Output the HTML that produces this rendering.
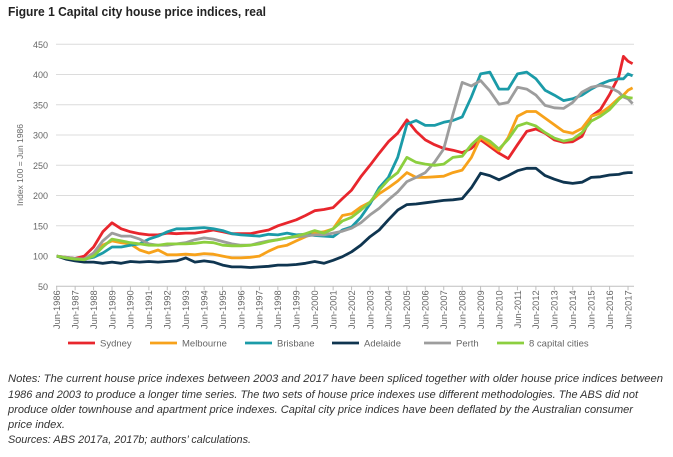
<!DOCTYPE html>
<html><head><meta charset="utf-8"><style>
body{margin:0;background:#fff;width:673px;height:457px;overflow:hidden}
svg{display:block;font-family:"Liberation Sans",sans-serif}
</style></head><body>
<svg id="c" width="673" height="457" viewBox="0 0 673 457">
<text x="8" y="16" font-size="12.5" font-weight="bold" fill="#222" textLength="258" lengthAdjust="spacingAndGlyphs">Figure 1 Capital city house price indices, real</text>
<text transform="translate(23,165) rotate(-90)" text-anchor="middle" font-size="8.5" fill="#666">Index 100 = Jun 1986</text>
<g id="grid"></g><g id="xl"></g><g id="lines"></g><g id="legend"></g>
<g font-style="italic" font-size="11" fill="#333">
<text x="8" y="382" textLength="655" lengthAdjust="spacingAndGlyphs">Notes: The current house price indexes between 2003 and 2017 have been spliced together with older house price indices between</text>
<text x="8" y="398" textLength="630" lengthAdjust="spacingAndGlyphs">1986 and 2003 to produce a longer time series. The two sets of house price indexes use different methodologies. The ABS did not</text>
<text x="8" y="413" textLength="625" lengthAdjust="spacingAndGlyphs">produce older townhouse and apartment price indexes. Capital city price indices have been deflated by the Australian consumer</text>
<text x="8" y="428" textLength="57" lengthAdjust="spacingAndGlyphs">price index.</text>
<text x="8" y="443" textLength="243" lengthAdjust="spacingAndGlyphs">Sources: ABS 2017a, 2017b; authors’ calculations.</text>
</g>
</svg>
<script>
const yTicks=[50,100,150,200,250,300,350,400,450];
const xTickYears=[1986,1987,1988,1989,1990,1991,1992,1993,1994,1995,1996,1997,1998,1999,2000,2001,2002,2003,2004,2005,2006,2007,2008,2009,2010,2011,2012,2013,2014,2015,2016,2017];
const times=[0,0.5,1,1.5,2,2.5,3,3.5,4,4.5,5,5.5,6,6.5,7,7.5,8,8.5,9,9.5,10,10.5,11,11.5,12,12.5,13,13.5,14,14.5,15,15.5,16,16.5,17,17.5,18,18.5,19,19.5,20,20.5,21,21.5,22,22.5,23,23.5,24,24.5,25,25.5,26,26.5,27,27.5,28,28.5,29,29.5,30,30.5,30.75,31,31.25];
const seriesNames=["Sydney","Melbourne","Brisbane","Adelaide","Perth","8 capital cities"];
const seriesColors=["#e8262d","#f7a21b","#1b9ba8","#0f3550","#9d9d9d","#8ccf3f"];
const sydney=[100,98,96,100,115,140,155,145,140,137,135,135,138,137,138,138,140,143,140,137,137,137,140,143,150,155,160,167,175,177,180,195,209,231,250,270,289,303,325,306,292,284,278,275,271,278,292,281,270,261,284,306,310,303,292,288,289,298,331,342,367,397,430,422,418];
const melbourne=[100,97,95,95,105,118,125,122,120,110,105,110,102,102,103,102,104,103,100,97,97,98,100,108,115,118,125,132,138,140,145,167,170,181,189,203,213,224,238,230,230,231,232,238,242,263,296,285,274,296,331,339,339,328,317,306,303,311,331,336,347,361,366,374,378];
const brisbane=[100,97,94,95,98,105,115,115,118,120,128,133,140,145,145,146,147,145,142,137,135,134,133,136,135,138,135,136,134,133,132,143,148,164,186,213,230,263,318,324,316,316,321,324,330,363,401,404,376,376,401,404,393,374,366,357,360,366,376,384,390,393,393,401,398];
const adelaide=[100,95,92,90,90,88,90,88,91,90,91,90,91,92,97,90,92,90,85,82,82,81,82,83,85,85,86,88,91,88,93,99,107,118,132,143,160,176,185,186,188,190,192,193,195,213,237,233,226,233,241,245,245,233,227,222,220,222,230,231,234,235,237,238,238];
const perth=[100,98,96,95,105,125,138,133,133,128,120,118,118,120,122,127,130,128,124,120,118,118,122,125,127,130,132,133,135,135,138,141,146,155,168,179,193,206,223,230,238,255,277,334,387,381,390,373,351,354,379,376,366,349,345,344,354,371,379,382,379,371,363,360,352];
const capitals=[100,97,95,94,100,115,128,125,122,120,118,118,120,120,120,121,123,122,118,117,117,118,120,124,127,130,133,137,142,138,145,158,164,176,189,209,226,238,263,255,252,250,252,263,265,284,298,290,277,293,315,320,315,304,295,290,293,304,323,331,342,359,365,362,361];
const allSeries=[sydney,melbourne,brisbane,adelaide,perth,capitals];

const NS="http://www.w3.org/2000/svg";
const X0=56.7,XS=18.43,YTOP=44.3,YPX=0.605;
const xs=t=>X0+t*XS;
const ys=v=>YTOP+(450-v)*YPX;
function mk(tag,attrs,parent){const e=document.createElementNS(NS,tag);for(const k in attrs)e.setAttribute(k,attrs[k]);parent.appendChild(e);return e;}
const grid=document.getElementById('grid');
yTicks.forEach(v=>{
  const l=mk('line',{x1:56,x2:634,y1:ys(v),y2:ys(v),stroke:v===50?'#bfbfbf':'#dcdcdc','stroke-width':1},grid);
  
  
  const t=mk('text',{x:48,y:ys(v)+3.5,'text-anchor':'end','font-size':9,fill:'#666'},grid);
  
  
  t.textContent=v;
});
const xl=document.getElementById('xl');
xTickYears.forEach((yr,i)=>{
  const x=xs(i);
  const tk=mk('line',{x1:x,x2:x,y1:ys(50),y2:ys(50)+4,stroke:'#bfbfbf'},xl);
  
  
  const t=mk('text',{transform:`translate(${x+3.3},${ys(50)+4}) rotate(-90)`,'text-anchor':'end','font-size':9.3,fill:'#666'},xl);
  
  
  t.textContent='Jun-'+yr;
});
const lines=document.getElementById('lines');
allSeries.forEach((s,i)=>{
  const d=s.map((v,j)=>(j?'L':'M')+xs(times[j]).toFixed(1)+','+ys(v).toFixed(1)).join('');
  const p=mk('path',{d:d,fill:'none',stroke:seriesColors[i],'stroke-width':2.8,'stroke-linejoin':'round'},lines);
  
  
});
const legend=document.getElementById('legend');
const lx=[68,150,245,332,424,497];
seriesNames.forEach((n,i)=>{
  const g=mk('g',{},legend);
  
  
  mk('line',{x1:lx[i],x2:lx[i]+27,y1:343,y2:343,stroke:seriesColors[i],'stroke-width':2.8},g);
  const t=mk('text',{x:lx[i]+32,y:346.5,'font-size':9.5,fill:'#666'},g);
  t.textContent=n;
});
</script>
</body></html>
